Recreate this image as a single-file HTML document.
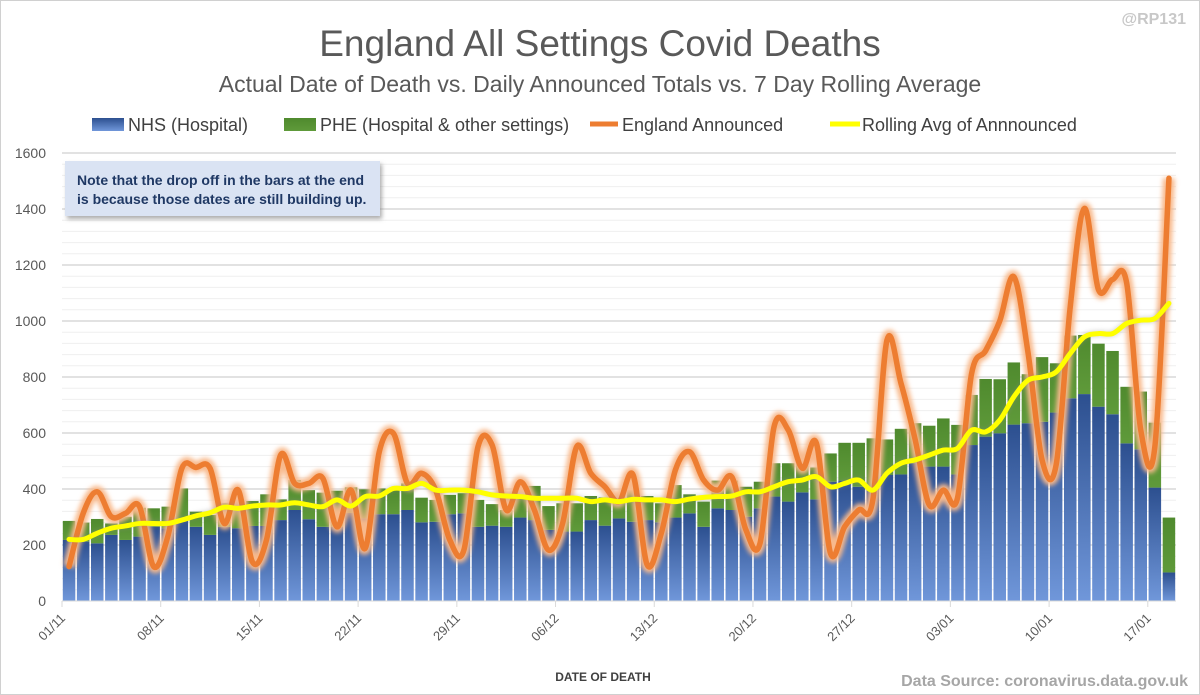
<!DOCTYPE html>
<html><head><meta charset="utf-8">
<style>
html,body{margin:0;padding:0;background:#fff;}
body{width:1200px;height:695px;overflow:hidden;font-family:"Liberation Sans",Arial,sans-serif;}
svg{display:block;}
</style></head>
<body>
<svg id="chart" width="1200" height="695" viewBox="0 0 1200 695">
<defs>
<linearGradient id="gBlue" x1="0" y1="0" x2="0" y2="1"><stop offset="0" stop-color="#2c4f8f"/><stop offset="1" stop-color="#7097da"/></linearGradient>
<linearGradient id="gGreen" x1="0" y1="0" x2="0" y2="1"><stop offset="0" stop-color="#4f8a2e"/><stop offset="1" stop-color="#5f9a3a"/></linearGradient>
<filter id="glow" x="-5%" y="-5%" width="110%" height="110%"><feGaussianBlur stdDeviation="2.5"/></filter>
<filter id="shadow" x="-5%" y="-20%" width="110%" height="150%"><feDropShadow dx="2" dy="3" stdDeviation="2" flood-color="#777" flood-opacity="0.6"/></filter>
</defs>
<rect x="0.5" y="0.5" width="1199" height="694" fill="#fff" stroke="#d0d0d0"/>
<text x="600" y="56" text-anchor="middle" font-size="37" fill="#595959">England All Settings Covid Deaths</text>
<text x="600" y="92" text-anchor="middle" font-size="23" fill="#595959">Actual Date of Death vs. Daily Announced Totals vs. 7 Day Rolling Average</text>
<text x="1186" y="24" text-anchor="end" font-size="16" font-weight="bold" fill="#c8c8c8">@RP131</text>
<g>
<g><rect x="92" y="118" width="32" height="13" fill="url(#gBlue)"/><text x="128" y="131" font-size="18" fill="#404040">NHS (Hospital)</text></g>
<g><rect x="284" y="118" width="32" height="13" fill="url(#gGreen)"/><text x="320" y="131" font-size="18" fill="#404040">PHE (Hospital &amp; other settings)</text></g>
<g><line x1="590" y1="124" x2="618" y2="124" stroke="#ed7d31" stroke-width="5"/><text x="622" y="131" font-size="18" fill="#404040">England Announced</text></g>
<g><line x1="830" y1="124" x2="860" y2="124" stroke="#ffff00" stroke-width="5"/><text x="862" y="131" font-size="18" fill="#404040">Rolling Avg of Annnounced</text></g>
</g>
<g id="grid"></g>
<g id="yaxis"></g>
<g id="bars"></g>
<g id="xaxis"></g>
<g id="lines"></g>
<g filter="url(#shadow)"><rect x="65" y="161" width="315" height="55" fill="#dae3f3"/></g>
<text x="77" y="185" font-size="14" font-weight="bold" fill="#1f3864">Note that the drop off in the bars at the end</text>
<text x="77" y="204" font-size="14" font-weight="bold" fill="#1f3864">is because those dates are still building up.</text>
<text x="603" y="681" text-anchor="middle" font-size="12" font-weight="bold" fill="#404040">DATE OF DEATH</text>
<text x="1188" y="686" text-anchor="end" font-size="16" font-weight="bold" fill="#a6a6a6">Data Source: coronavirus.data.gov.uk</text>
</svg>
<script>
const nhs = [218,212,206,236,218,230,265,260,289,265,236,265,260,268,268,289,325,292,265,265,315,295,310,310,325,281,283,310,313,265,269,265,298,289,254,248,248,289,269,295,283,289,281,298,313,265,331,325,301,331,373,355,388,363,426,430,408,408,450,452,492,480,480,452,557,587,599,630,635,640,673,724,739,694,667,563,542,405,102];
const total = [286,280,293,277,301,333,331,337,402,319,307,349,355,357,381,363,432,396,387,394,406,399,402,396,420,369,361,379,385,361,346,325,367,411,339,349,349,375,370,367,396,375,349,414,381,355,430,430,408,426,492,492,492,477,527,565,565,581,577,615,635,626,652,629,736,793,792,852,810,871,849,948,950,919,893,765,748,637,298];
const announced = [123,313,390,301,313,337,123,230,474,477,474,277,396,140,218,521,420,420,438,265,396,188,533,599,420,456,396,218,182,551,557,325,426,325,182,277,551,456,408,355,450,129,242,468,533,432,396,443,254,206,623,611,474,563,170,265,325,361,931,777,577,343,396,367,811,894,1000,1158,889,504,486,1051,1402,1112,1148,1136,611,551,1510];
const rolling = [220,220,242,260,268,277,277,277,289,304,315,335,331,339,343,343,351,343,337,361,339,373,375,402,402,420,396,396,396,390,379,375,373,367,367,367,367,355,361,355,363,361,361,355,364,370,373,375,390,390,408,426,432,444,408,420,432,396,456,492,504,521,539,545,610,604,646,729,788,800,818,884,943,955,955,991,1003,1009,1063];
const xTickLabels = ["01/11","08/11","15/11","22/11","29/11","06/12","13/12","20/12","27/12","03/01","10/01","17/01"];
const yTicks = [0,200,400,600,800,1000,1200,1400,1600];

const NS="http://www.w3.org/2000/svg";
const X0=62, X1=1176, Y0=601, Y1=153, YMAX=1600;
const N=nhs.length;
const bw=(X1-X0)/N;
const xs=i=>X0+bw*(i+0.5);
const ys=v=>Y0-(v/YMAX)*(Y0-Y1);
function mk(tag,attrs,parent){const e=document.createElementNS(NS,tag);for(const k in attrs)e.setAttribute(k,attrs[k]);parent.appendChild(e);return e;}

const grid=document.getElementById('grid');
for(let v=40;v<=YMAX;v+=40){
  const major=v%200===0;
  const l=mk('line',{x1:X0,x2:X1,y1:ys(v),y2:ys(v),stroke:major?'#d9d9d9':'#efefef','stroke-width':major?1.5:1},grid);
  
  
}
const yaxis=document.getElementById('yaxis');
yTicks.forEach(v=>{
  const t=mk('text',{x:46,y:ys(v)+5,'text-anchor':'end','font-size':14,fill:'#595959'},yaxis);
  t.textContent=v;
  
  
});
const bars=document.getElementById('bars');
for(let i=0;i<N;i++){
  const x=X0+bw*i+0.8, w=bw-1.6;
  const b=mk('rect',{x:x,y:ys(nhs[i]),width:w,height:Y0-ys(nhs[i]),fill:'url(#gBlue)'},bars);
  
  
  const g=mk('rect',{x:x,y:ys(total[i]),width:w,height:Math.max(0,ys(nhs[i])-ys(total[i])),fill:'url(#gGreen)'},bars);
  
  
}
const xaxis=document.getElementById('xaxis');
const al=mk('line',{x1:X0,x2:X1,y1:Y0,y2:Y0,stroke:'#d9d9d9','stroke-width':1},xaxis);


xTickLabels.forEach((lab,k)=>{
  const tx=X0+bw*(k*7);
  const tk=mk('line',{x1:tx,x2:tx,y1:Y0,y2:Y0+6,stroke:'#d9d9d9'},xaxis);
  
  
  const t=mk('text',{x:tx+4,y:Y0+18,'text-anchor':'end','font-size':13,fill:'#595959',transform:`rotate(-45 ${tx+4} ${Y0+18})`},xaxis);
  t.textContent=lab;
  
  
});
function smooth(vals){
  const p=vals.map((v,i)=>[xs(i),ys(v)]);
  let d=`M${p[0][0]},${p[0][1]}`;
  for(let i=0;i<p.length-1;i++){
    const p0=p[Math.max(0,i-1)],p1=p[i],p2=p[i+1],p3=p[Math.min(p.length-1,i+2)];
    const t=1/6;
    d+=` C${p1[0]+(p2[0]-p0[0])*t},${p1[1]+(p2[1]-p0[1])*t} ${p2[0]-(p3[0]-p1[0])*t},${p2[1]-(p3[1]-p1[1])*t} ${p2[0]},${p2[1]}`;
  }
  return d;
}
const lines=document.getElementById('lines');
const dA=smooth(announced);
const glow=mk('path',{d:dA,fill:'none',stroke:'#f8b98c','stroke-width':12,filter:'url(#glow)','stroke-linejoin':'round'},lines);


const la=mk('path',{d:dA,fill:'none',stroke:'#ed7d31','stroke-width':5.5,'stroke-linejoin':'round','stroke-linecap':'round'},lines);


const dR=smooth(rolling);
const rs=mk('path',{d:dR,fill:'none',stroke:'#888','stroke-width':6,opacity:0.35,filter:'url(#glow)'},lines);


const lr=mk('path',{d:dR,fill:'none',stroke:'#ffff00','stroke-width':5,'stroke-linejoin':'round','stroke-linecap':'round'},lines);


</script>
</body></html>
